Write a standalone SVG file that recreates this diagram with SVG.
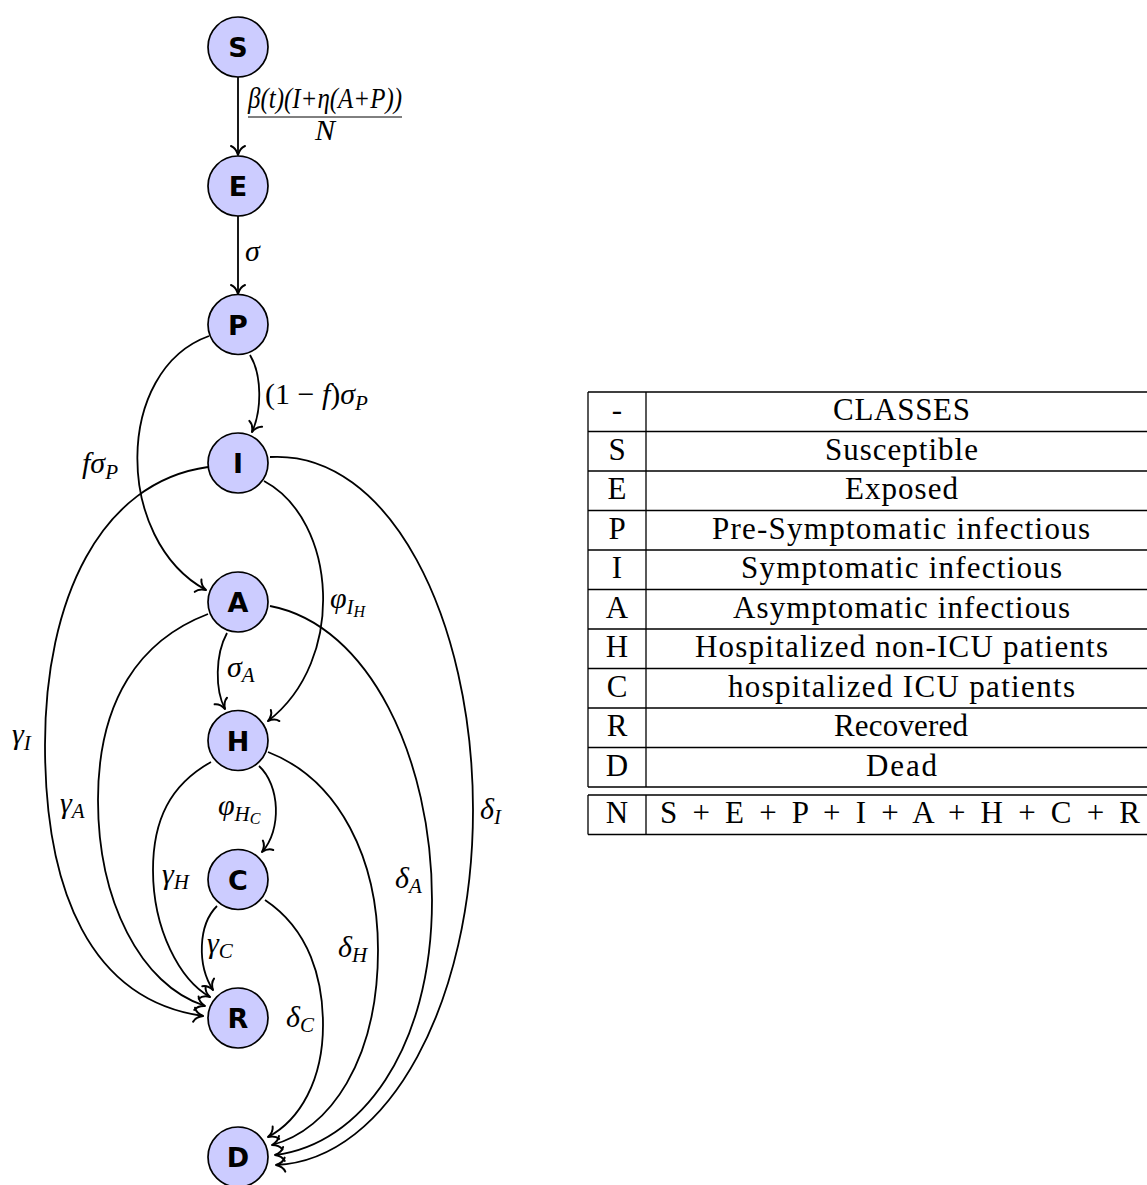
<svg xmlns="http://www.w3.org/2000/svg" width="1147" height="1185" viewBox="0 0 1147 1185">
<style>
.node circle{fill:#ccccff;stroke:#000;stroke-width:1.7}
.node text{font-family:"DejaVu Sans",sans-serif;font-weight:bold;font-size:27px;text-anchor:middle;fill:#000}
.edge{fill:none;stroke:#000;stroke-width:1.8;marker-end:url(#arr)}
.m{font-family:"Liberation Serif",serif;font-style:italic;font-size:30px;fill:#000}
.r{font-family:"Liberation Serif",serif;font-style:normal}
.s{font-size:21px}
.ss{font-size:16px}
.tl{stroke:#000;stroke-width:1.3;fill:none}
.t{font-family:"Liberation Serif",serif;font-size:31px;fill:#000;text-anchor:middle}
</style>
<defs>
<marker id="arr" viewBox="-12 -9 14 18" refX="0" refY="0" markerWidth="14" markerHeight="18" markerUnits="userSpaceOnUse" orient="auto">
<path d="M-9,-7 C-7.5,-3 -3,-0.8 0,0 C-3,0.8 -7.5,3 -9,7" fill="none" stroke="#000" stroke-width="2" stroke-linecap="round" stroke-linejoin="round"/>
</marker>
</defs>
<g id="connectors">
<path class="edge" d="M238,77 L238,155"/>
<path class="edge" d="M238,216 L238,294"/>
<path class="edge" d="M250,355 C262,375 262,410 252,432"/>
<path class="edge" d="M209,336 C114,370 114,540 206,590"/>
<path class="edge" d="M264,481 C337,520 347,660 268,721"/>
<path class="edge" d="M208,467 C100,482 45,600 45,745 C45,890 90,1000 203,1016"/>
<path class="edge" d="M208,614 C140,640 98,700 98,800 C98,900 140,985 205,1006"/>
<path class="edge" d="M211,762 C170,785 153,820 153,870 C153,930 180,980 210,997"/>
<path class="edge" d="M227,633 C215,655 215,690 225,709"/>
<path class="edge" d="M259,766 C280,785 282,830 262,852"/>
<path class="edge" d="M217,906 C198,925 197,965 213,990"/>
<path class="edge" d="M265,900 C310,930 323,980 323,1025 C323,1080 300,1120 268,1137"/>
<path class="edge" d="M268,752 C340,780 378,860 378,950 C378,1060 330,1130 272,1145"/>
<path class="edge" d="M270,606 C370,625 432,760 432,900 C432,1050 360,1145 275,1155"/>
<path class="edge" d="M270,457 C390,450 473,620 473,810 C473,1000 390,1160 276,1165"/>
</g>
<g id="labels">
<text class="m" x="248" y="108" font-size="19" textLength="154" lengthAdjust="spacingAndGlyphs">β(t)(I+η(A+P))</text>
<line x1="248" y1="117" x2="402" y2="117" stroke="#000" stroke-width="1"/>
<text class="m" x="325" y="140" font-size="18" text-anchor="middle">N</text>
<text class="m" x="245" y="261">σ</text>
<text class="m" x="265" y="404" font-size="32"><tspan class="r">(1 − </tspan>f<tspan class="r">)</tspan>σ<tspan class="s" dy="6">P</tspan></text>
<text class="m" x="82" y="473" font-size="32">fσ<tspan class="s" dy="6">P</tspan></text>
<text class="m" x="330" y="608">φ<tspan class="s" dy="6">I</tspan><tspan class="ss" dy="3">H</tspan></text>
<text class="m" x="227" y="677">σ<tspan class="s" dy="5">A</tspan></text>
<text class="m" x="12" y="744">γ<tspan class="s" dy="6">I</tspan></text>
<text class="m" x="60" y="813">γ<tspan class="s" dy="5">A</tspan></text>
<text class="m" x="218" y="815">φ<tspan class="s" dy="6">H</tspan><tspan class="ss" dy="3">C</tspan></text>
<text class="m" x="162" y="884">γ<tspan class="s" dy="5">H</tspan></text>
<text class="m" x="395" y="888">δ<tspan class="s" dy="5">A</tspan></text>
<text class="m" x="480" y="819">δ<tspan class="s" dy="5">I</tspan></text>
<text class="m" x="207" y="953">γ<tspan class="s" dy="5">C</tspan></text>
<text class="m" x="338" y="957">δ<tspan class="s" dy="5">H</tspan></text>
<text class="m" x="286" y="1027">δ<tspan class="s" dy="5">C</tspan></text>
</g>
<g id="S" class="node"><circle cx="238" cy="47" r="30"/><text x="238" y="57">S</text></g>
<g id="E" class="node"><circle cx="238" cy="186" r="30"/><text x="238" y="196">E</text></g>
<g id="P" class="node"><circle cx="238" cy="324.5" r="30"/><text x="238" y="334.5">P</text></g>
<g id="I" class="node"><circle cx="238" cy="463" r="30"/><text x="238" y="473">I</text></g>
<g id="A" class="node"><circle cx="238" cy="602" r="30"/><text x="238" y="612">A</text></g>
<g id="H" class="node"><circle cx="238" cy="740.5" r="30"/><text x="238" y="750.5">H</text></g>
<g id="C" class="node"><circle cx="238" cy="879.5" r="30"/><text x="238" y="889.5">C</text></g>
<g id="R" class="node"><circle cx="238" cy="1018" r="30"/><text x="238" y="1028">R</text></g>
<g id="D" class="node"><circle cx="238" cy="1157" r="30"/><text x="238" y="1167">D</text></g>
<g id="table">
<path class="tl" d="M588,392H1147M588,431.5H1147M588,471H1147M588,510.5H1147M588,550H1147M588,589.5H1147M588,629H1147M588,668.5H1147M588,708H1147M588,747.5H1147M588,787H1147M588,392V787M646,392V787"/>
<path class="tl" d="M588,795H1147M588,834.5H1147M588,795V834.5M646,795V834.5"/>
<text class="t" x="617" y="420">-</text>
<text class="t" x="901.5" y="420" textLength="137">CLASSES</text>
<text class="t" x="617" y="459.5">S</text>
<text class="t" x="901.5" y="459.5" textLength="153">Susceptible</text>
<text class="t" x="617" y="499">E</text>
<text class="t" x="901.5" y="499" textLength="113">Exposed</text>
<text class="t" x="617" y="538.5">P</text>
<text class="t" x="901" y="538.5" textLength="378">Pre-Symptomatic infectious</text>
<text class="t" x="617" y="578">I</text>
<text class="t" x="901.5" y="578" textLength="321">Symptomatic infectious</text>
<text class="t" x="617" y="617.5">A</text>
<text class="t" x="901.5" y="617.5" textLength="337">Asymptomatic infectious</text>
<text class="t" x="617" y="657">H</text>
<text class="t" x="901.5" y="657" textLength="413">Hospitalized non-ICU patients</text>
<text class="t" x="617" y="696.5">C</text>
<text class="t" x="901.5" y="696.5" textLength="347">hospitalized ICU patients</text>
<text class="t" x="617" y="736">R</text>
<text class="t" x="901" y="736" textLength="134">Recovered</text>
<text class="t" x="617" y="775.5">D</text>
<text class="t" x="901.5" y="775.5" textLength="71">Dead</text>
<text class="t" x="617" y="823">N</text>
<text class="t" x="900" y="823" textLength="480">S + E + P + I + A + H + C + R</text>
</g>
</svg>
